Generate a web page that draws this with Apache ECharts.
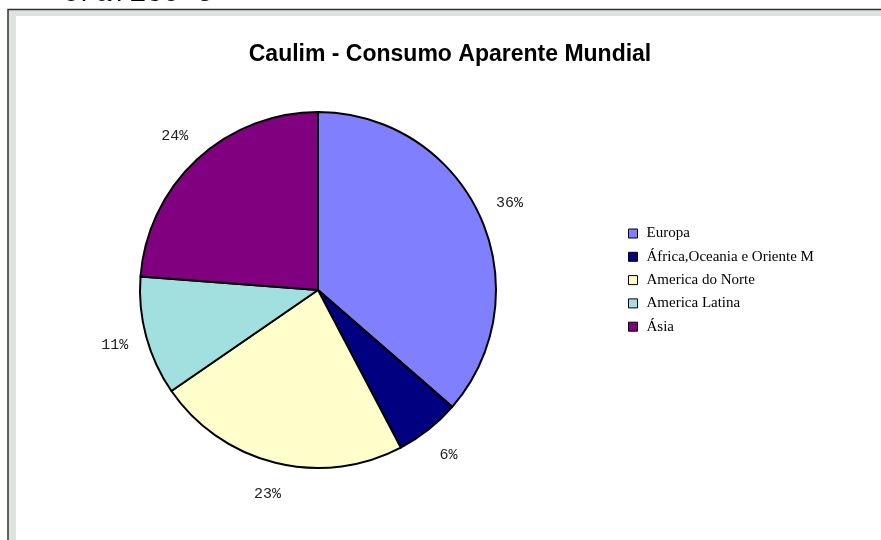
<!DOCTYPE html>
<html>
<head>
<meta charset="utf-8">
<script src="https://cdn.jsdelivr.net/npm/echarts@6/dist/echarts.min.js"></script>
<style>
  html, body { margin: 0; padding: 0; background: #ffffff; }
  #chart { width: 881px; height: 540px; }
</style>
</head>
<body>
<div id="chart"></div>
<script>
// ---- data ----
const categories = ['Europa', 'África,Oceania e Oriente M', 'America do Norte', 'America Latina', 'Ásia'];
const values = [36.4, 5.9, 23.1, 10.8, 23.8];
const colors = ['#8080ff', '#000080', '#ffffcc', '#a2e0e0', '#800080'];
const titleText = 'Caulim - Consumo Aparente Mundial';
const captionText = 'Gráfico 3';

const pieData = categories.map((name, i) => ({ name: name, value: values[i] }));

const chart = echarts.init(document.getElementById('chart'), null, { renderer: 'canvas' });

chart.setOption({
  backgroundColor: '#ffffff',
  animation: false,
  color: colors,
  title: {
    text: titleText,
    left: 445,
    textAlign: 'center',
    top: 38,
    textStyle: {
      fontFamily: 'Liberation Sans, Arial, sans-serif',
      fontSize: 23,
      fontWeight: 'bold',
      color: '#000000'
    }
  },
  graphic: [
    {
      type: 'rect',
      z: -10,
      shape: { x: 8, y: 9.5, width: 900, height: 560 },
      style: { fill: '#dfe3e0', stroke: '#333333', lineWidth: 1.5 }
    },
    {
      type: 'rect',
      z: -9,
      shape: { x: 16, y: 16, width: 900, height: 560 },
      style: { fill: '#ffffff' }
    },
    {
      type: 'text',
      x: 62,
      y: -6,
      style: {
        text: captionText,
        font: '28px "Liberation Mono", "Courier New", monospace',
        fill: '#000000',
        verticalAlign: 'middle',
        align: 'left'
      }
    }
  ],
  legend: {
    orient: 'vertical',
    left: 623,
    top: 221,
    itemWidth: 9,
    itemHeight: 9,
    itemGap: 8.3,
    icon: 'rect',
    data: categories,
    textStyle: {
      fontFamily: 'Liberation Serif, Times New Roman, serif',
      fontSize: 15,
      color: '#000000',
      padding: [0, 0, 0, 4]
    },
    itemStyle: { borderColor: '#000000', borderWidth: 1 }
  },
  series: [
    {
      type: 'pie',
      center: [318, 290],
      radius: [0, 178],
      startAngle: 90,
      clockwise: true,
      avoidLabelOverlap: false,
      silent: true,
      data: pieData,
      itemStyle: { borderColor: '#000000', borderWidth: 2 },
      label: { show: false },
      labelLine: { show: false },
      emphasis: { disabled: true }
    },
    {
      // invisible ring used only to place the percentage labels around the pie
      type: 'pie',
      center: [318, 290],
      radius: [195, 220],
      startAngle: 90,
      clockwise: true,
      avoidLabelOverlap: false,
      silent: true,
      data: pieData,
      itemStyle: { color: 'rgba(0,0,0,0)', borderWidth: 0 },
      label: {
        show: true,
        position: 'inside',
        formatter: p => Math.round(p.percent) + '%',
        fontFamily: 'Liberation Mono, Courier New, monospace',
        fontSize: 15,
        color: '#222222'
      },
      labelLine: { show: false },
      emphasis: { disabled: true }
    }
  ]
});
</script>
</body>
</html>
